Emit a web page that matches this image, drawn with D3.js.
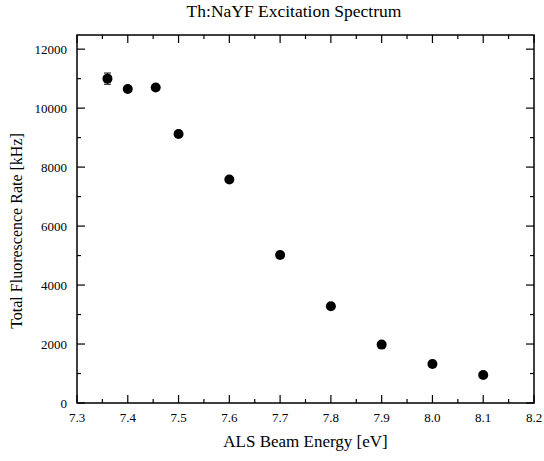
<!DOCTYPE html>
<html>
<head>
<meta charset="utf-8">
<script src="https://cdn.jsdelivr.net/npm/d3@7"></script>
<style>
body { margin: 0; background: #fff; }
text { font-family: "Liberation Serif", "Times New Roman", serif; }
</style>
</head>
<body>
<div id="chart"></div>
<script>
var energy = [7.36, 7.40, 7.455, 7.50, 7.60, 7.70, 7.80, 7.90, 8.00, 8.10];
var rate   = [11000, 10650, 10700, 9120, 7580, 5020, 3280, 1980, 1320, 950];
var rateErr = [190, 60, 60, 60, 60, 50, 50, 40, 40, 40];
var xTicks = [7.3, 7.4, 7.5, 7.6, 7.7, 7.8, 7.9, 8.0, 8.1, 8.2];
var yTicks = [0, 2000, 4000, 6000, 8000, 10000, 12000];

var svgWidth = 544, svgHeight = 461;
var margin = {top: 35, right: 10, bottom: 58, left: 77};
var width = svgWidth - margin.left - margin.right;
var height = svgHeight - margin.top - margin.bottom;

var svg = d3.select("#chart")
	.append("svg")
		.attr("width", svgWidth)
		.attr("height", svgHeight)
	.append("g")
		.attr("transform", "translate(" + margin.left + "," + margin.top + ")");

var x = d3.scaleLinear().domain([7.3, 8.2]).range([0, width]);
var y = d3.scaleLinear().domain([0, 12480]).range([height, 0]);

var minorX = d3.range(7.35, 8.2, 0.1);
var minorY = d3.range(1000, 12480, 2000);

// ticks pointing inward on all four sides
function tickLines(vals, len, side) {
	svg.selectAll(null)
		.data(vals)
		.enter()
		.append("line")
		.attr("x1", function(d) { return side == "b" || side == "t" ? x(d) : (side == "l" ? 0 : width); })
		.attr("x2", function(d) { return side == "b" || side == "t" ? x(d) : (side == "l" ? len : width - len); })
		.attr("y1", function(d) { return side == "l" || side == "r" ? y(d) : (side == "b" ? height : 0); })
		.attr("y2", function(d) { return side == "l" || side == "r" ? y(d) : (side == "b" ? height - len : len); })
		.attr("stroke", "black")
		.attr("stroke-width", 1.2);
}
tickLines(xTicks, 8, "b");
tickLines(minorX, 4, "b");
tickLines(xTicks, 8, "t");
tickLines(minorX, 4, "t");
tickLines(yTicks, 8, "l");
tickLines(minorY, 4, "l");
tickLines(yTicks, 8, "r");
tickLines(minorY, 4, "r");

svg.append("rect")
	.attr("width", width)
	.attr("height", height)
	.attr("fill", "none")
	.attr("stroke", "black")
	.attr("stroke-width", 1.5);

// tick labels
svg.selectAll(null)
	.data(xTicks)
	.enter()
	.append("text")
	.attr("x", function(d) { return x(d); })
	.attr("y", height + 19)
	.attr("text-anchor", "middle")
	.style("font-size", "13px")
	.text(function(d) { return d.toFixed(1); });

svg.selectAll(null)
	.data(yTicks)
	.enter()
	.append("text")
	.attr("x", -10)
	.attr("y", function(d) { return y(d) + 4.5; })
	.attr("text-anchor", "end")
	.style("font-size", "13px")
	.text(function(d) { return d; });

// error bars
var pts = energy.map(function(e, i) { return {x: e, y: rate[i], err: rateErr[i]}; });

svg.selectAll(null)
	.data(pts)
	.enter()
	.append("path")
	.attr("d", function(d) {
		var cx = x(d.x), lo = y(d.y - d.err), hi = y(d.y + d.err);
		return "M" + cx + "," + lo + "V" + hi +
			"M" + (cx - 3.5) + "," + lo + "H" + (cx + 3.5) +
			"M" + (cx - 3.5) + "," + hi + "H" + (cx + 3.5);
	})
	.attr("stroke", "black")
	.attr("stroke-width", 1)
	.attr("fill", "none");

svg.selectAll(null)
	.data(pts)
	.enter()
	.append("circle")
	.attr("cx", function(d) { return x(d.x); })
	.attr("cy", function(d) { return y(d.y); })
	.attr("r", 5)
	.attr("fill", "black");

// titles
svg.append("text")
	.attr("x", 217)
	.attr("y", -18)
	.attr("text-anchor", "middle")
	.style("font-size", "17.5px")
	.text("Th:NaYF Excitation Spectrum");

svg.append("text")
	.attr("x", width / 2)
	.attr("y", height + 44)
	.attr("text-anchor", "middle")
	.style("font-size", "17px")
	.text("ALS Beam Energy [eV]");

svg.append("text")
	.attr("transform", "translate(" + (-55) + "," + (196) + ")rotate(-90)")
	.attr("text-anchor", "middle")
	.style("font-size", "16px")
	.text("Total Fluorescence Rate [kHz]");
</script>
</body>
</html>
